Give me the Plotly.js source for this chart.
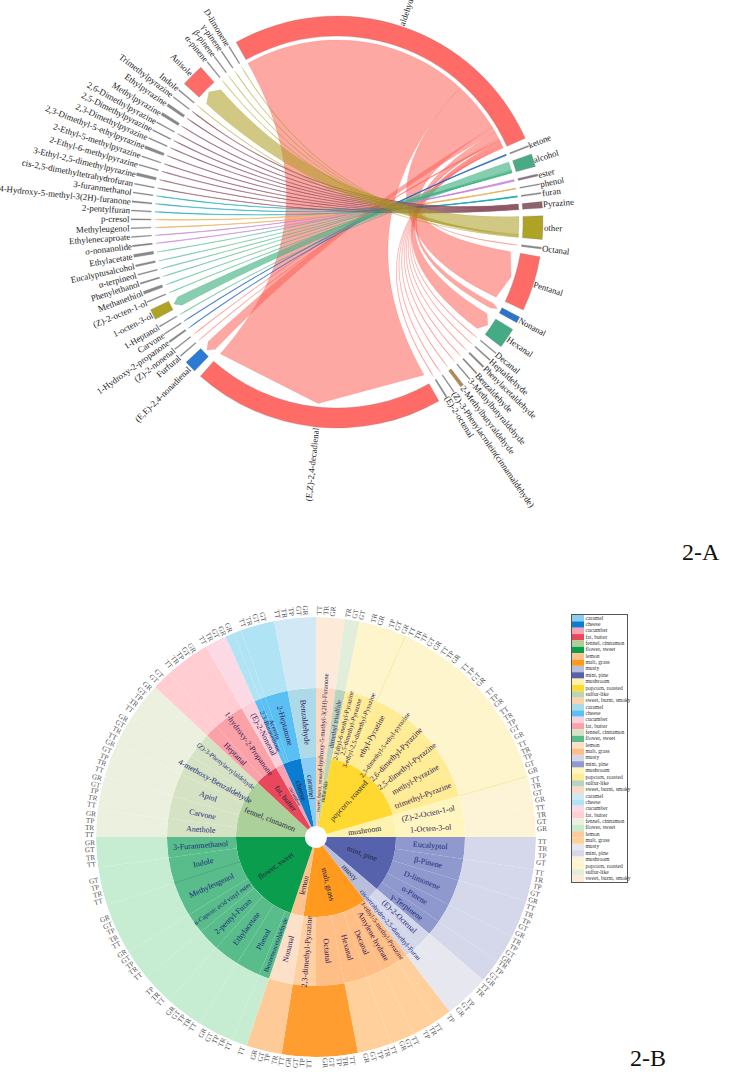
<!DOCTYPE html>
<html><head><meta charset="utf-8">
<script src="https://cdn.plot.ly/plotly-3.0.1.min.js"></script>
<style>html,body{margin:0;padding:0;background:#fff;overflow:hidden}</style></head>
<body><div id="chart" style="width:742px;height:1083px"></div>
<script>
// ---------- 2-A chord diagram data ----------
const arcNames = ['aldehyde','ketone','alcohol','ester','phenol','furan','Pyrazine','other','Octanal','Pentanal','Nonanal','Hexanal','Decanal','Heptaldehyde','Phenylacetaldehyde','Benzaldehyde','3-Methylbutyraldehyde','2-Methylbutyraldehyde','(Z)-3-Phenylacrolein(cinnamaldehyde)','(E)-2-octenal','(E,Z)-2,4-decadienal','(E,E)-2,4-nonadienal','Furfural','(Z)-2-nonenal','1-Hydroxy-2-propanone','Carvone','1-Heptanol','1-octen-3-ol','(Z)-2-octen-1-ol','Methanethiol','Phenylethanol','α-terpineol','Eucalyptusalcohol','Ethylacetate','σ-nonanolide','Ethylenecaproate','Methyleugenol','p-cresol','2-pentylfuran','4-Hydroxy-5-methyl-3(2H)-furanone','3-furanmethanol','cis-2,5-dimethyltetrahydrofuran','3-Ethyl-2,5-dimethylpyrazine','2-Ethyl-6-methylpyrazine','2-Ethyl-5-methylpyrazine','2,3-Dimethyl-5-ethylpyrazine','2,3-Dimethylpyrazine','2,5-Dimethylpyrazine','2,6-Dimethylpyrazine','Methylpyrazine','Ethylpyrazine','Trimethylpyrazine','Indole','Anisole','α-pinene','β-pinene','γ-pinene','D-limonene'];
const arcValues = [95.3,.4,3.6,.6,.3,.4,1.8,6.6,.5,15.6,1.8,5.8,.3,.4,.5,.4,.3,1,.3,.4,71.2,3.4,.3,.3,.5,.3,.3,3,.3,.8,.4,.3,.5,.8,.4,.3,.3,.3,.3,.4,.3,.3,.8,.3,.3,.8,.3,.3,.3,.8,.8,.3,.3,6.5,.3,.3,.3,.3];
const arcStartAngle = 330.7;
const arcFill = {aldehyde:'#ff6b66',alcohol:'#4aaa85',ester:'#8f7086',Pyrazine:'#8f636e',other:'#aea325',Pentanal:'#ff6b66',Nonanal:'#2a74c9',Hexanal:'#45ab85','2-Methylbutyraldehyde':'#b08a55','(E,Z)-2,4-decadienal':'#ff6b66','(E,E)-2,4-nonadienal':'#2a7ad6','1-octen-3-ol':'#aea325',Anisole:'#ff6b66'};

const aldehydeTargets = ['(E,Z)-2,4-decadienal','Pentanal','(E,E)-2,4-nonadienal','Hexanal','Nonanal','Furfural','(Z)-2-nonenal','(E)-2-octenal','(Z)-3-Phenylacrolein(cinnamaldehyde)','2-Methylbutyraldehyde','3-Methylbutyraldehyde','Benzaldehyde','Phenylacetaldehyde','Heptaldehyde','Decanal','Octanal'];
const aldehydeShares  = [71,16,1.7,2.2,.6,.22,.22,.22,.22,.4,.22,.22,.3,.22,.22,.3];
const ketoneTargets = ['1-Hydroxy-2-propanone','Carvone'];
const ketoneShares  = [1,1];
const alcoholTargets = ['1-octen-3-ol','Phenylethanol','1-Heptanol','(Z)-2-octen-1-ol','Methanethiol','α-terpineol','Eucalyptusalcohol','Ethylacetate'];
const alcoholShares  = [2.6,.3,.1,.1,.1,.1,.1,.1];
const esterTargets = ['σ-nonanolide','Ethylenecaproate'];
const esterShares  = [1,1];
const phenolTargets = ['p-cresol','Methyleugenol'];
const phenolShares  = [1,1];
const furanTargets = ['2-pentylfuran','4-Hydroxy-5-methyl-3(2H)-furanone','3-furanmethanol'];
const furanShares  = [1,1,1];
const pyrazineTargets = ['Trimethylpyrazine','Ethylpyrazine','Methylpyrazine','2,6-Dimethylpyrazine','2,5-Dimethylpyrazine','2,3-Dimethylpyrazine','2,3-Dimethyl-5-ethylpyrazine','2-Ethyl-5-methylpyrazine','2-Ethyl-6-methylpyrazine','3-Ethyl-2,5-dimethylpyrazine','cis-2,5-dimethyltetrahydrofuran'];
const pyrazineShares  = [1,1,1,1,1,1,1,1,1,1,1];
const otherTargets = ['Anisole','D-limonene','γ-pinene','β-pinene','α-pinene','Indole'];
const otherShares  = [5.6,.2,.2,.2,.2,.2];

// ---------- 2-B sunburst data ----------
const flavours = ['sweet, burnt, smoky','sulfur-like','popcorn, roasted','mushroom','mint, pine','musty','malt, grass','lemon','flower, sweet','fennel, cinnamon','fat, butter','cucumber','cheese','caramel'];
const flavourSpans = [7.5,3.9,62.6,16,40.5,12.1,46.4,9.4,71.6,43,17,5.7,13.3,11];
const compoundFlavour = [0,1,2,2,2,2,2,2,2,2,2,3,3,4,4,4,4,4,5,5,6,6,6,6,6,6,7,8,8,8,8,8,8,8,8,9,9,9,9,9,10,10,11,12,12,12,13];
const compoundNames = ['4-hydroxy-5-methyl-3(2H)-Furanone','dimethyl trisulfide','2-Ethyl-6-methyl-Pyrazine','2,5-dimethyl-Pyrazine','3-ethyl-2,5-dimethyl-Pyrazine','ethyl-Pyrazine','2,3-dimethyl-5-ethyl-pyrazine','2,6-dimethyl-Pyrazine','2,5-dimethyl-Pyrazine','methyl-Pyrazine','trimethyl-Pyrazine','(Z)-2-Octen-1-ol','1-Octen-3-ol','Eucalyptol','β-Pinene','D-limonene','α-Pinene','γ-Terpinene','(E)-2-Octenal','cis-tetrahydro-2,5-dimethyl-Furan','3-ethyl-5-methyl-Pyrazine','Amylene hydrate','Decanal','Hexanal','Octanal','2,3-dimethyl-Pyrazine','Nonanal','Benzeneacetaldehyde','Phenol','Ethylacetate','2-pentyl-Furan','n-Caproic acid vinyl ester','Methyleugenol','Indole','3-Furanmethanol','Anethole','Carvone','Apiol','4-methoxy-Benzaldehyde','(Z)-3-Phenylacrylaldehyde','Heptanal','1-hydroxy-2-Propanone','(E)-2-Nonenal','2,3-Butanedione','Acetoin','2-Heptanone','Benzaldehyde'];
const compoundSpans = [7.5,3.9,4.1,3.5,5,9.5,6.5,8,8,8,10,8,8,8.5,8.5,10,7.5,6,6.5,5.6,4.4,6.5,6.5,9,11,9,9.4,4.1,9.5,10,8.5,8,13.5,10,8,7,9,9,8,10,5,12,5.7,2.3,2,9,11];
const codeGroupStarts = [.8,8.3,15,19.6,25.1,34.6,41.4,50.2,56.2,65.8,75.3,82.7,91.3,99.2,108.4,117.6,124.5,131.9,137,143.6,147.3,154,160.1,170.7,181.6,188.7,199.2,202.7,212.8,223.4,231.8,241.5,253.4,263,270.5,278,287.2,296.3,304.5,314.3,319.5,330,341,350.1];
const codeGroups = ['TT TR GR','TR GT GT','TR GR','TP GT GR','TT TR TP GT GR','TT TP GR','TT TP GT GR','TT TP GR','TT TR TP GT GR','TT TR TP GT GR','TT TR GT GR','TT TR GT GR','TT TR TP GT','TT TR TP GT GR','TT TR TP GT GR','TR TP GT GR','TR TP GT GR','TT TR','TP GT GR','TP','TT TR TP','TT GT GR','TT TR TP GT GR','TT TR TP GT GR','TT TP GT GR','TT TR TP GT GR','TT','TT TR TP GT GR','TT TR TP GT GR','TT TR TP','TT TR TP GT GR','TT TR TP GT GR','TT TR TP GT','TT TR GT GR','TT TR TP GR','TT TR TP GT GR','TT TR TP GT GR','TT TR GT GR','TT TR TP GT GR','GT GT','TT TR TP GT GR','TT TR GT GR GR','TT TR GT GT','TT TR TP GT GR'];
const ring1Colors = ['#f9d3ae','#bdd4b0','#ffd92f','#fff2ae','#5762ad','#b9bedd','#ff9a1e','#fdc38e','#0a9d4d','#abd09a','#e9475b','#f8a3b5','#0b7dd1','#8bcdf2'];
const ring2Colors = ['#fdd9c2','#b8d4c0','#ffec94','#fff5bf','#8f99ce','#d4d7ea','#ffbe85','#fde0c8','#58bd8a','#d6e2c4','#fba2a8','#fbd0dd','#5ac0f4','#acdae9'];
const ring3Colors = ['#fdead9','#e3eeda','#fef5cc','#fdf4d8','#d5d8ea','#e7e7f0','#ffd09c','#fecb98','#c6ecd2','#ecf1df','#ffcdd2','#fbd9e5','#b0e4f5','#d2e8f5'];
const legendOrder = ['caramel','cheese','cucumber','fat, butter','fennel, cinnamon','flower, sweet','lemon','malt, grass','musty','mint, pine','mushroom','popcorn, roasted','sulfur-like','sweet, burnt, smoky'];

// ---------- page geometry ----------
const W=742,H=1083, SERIF='"Liberation Serif","Times New Roman",serif';
const A={cx:337,cy:222,R:208,inner:186,outer:206,end:182,edge:176};
const B={cx:316,cy:837,R:220,hole:11,r1:80,r2:149};
const LABEL_A=8.85;
const px=x=>x/W, py=y=>1-y/H;
const rad=d=>d*Math.PI/180;
const ctx=document.createElement('canvas').getContext('2d');
const textW=(s,f)=>{ctx.font=f+'px "Liberation Serif"';return ctx.measureText(s).width;};
const radialAngle=a=>{a=((a%360)+360)%360;return a<180?a-90:a-270;};
function radialLabel(c,a,r,text,size,color){
  return {xref:'paper',yref:'paper',x:px(c.cx+r*Math.sin(rad(a))),y:py(c.cy-r*Math.cos(rad(a))),text,showarrow:false,xanchor:'center',yanchor:'middle',textangle:radialAngle(a),font:{family:SERIF,size,color},borderpad:0,borderwidth:0};
}

// ---------- chord layout ----------
const sum=a=>a.reduce((p,v)=>p+v,0);
const gap=(360-sum(arcValues))/arcValues.length;
const arc={}; {let a=arcStartAngle;arcNames.forEach((n,i)=>{arc[n]={s:a,e:a+arcValues[i],m:a+arcValues[i]/2};a+=arcValues[i]+gap;});}
const traces=[];
function polarPt(x,y){return [Math.hypot(x,y),Math.atan2(x,y)*180/Math.PI];}
function ribbon(target,s0,s1,color,lw){
  const t0=arc[target];
  // thin links end in a hairline tip; only the wide ones keep the full arc width
  const t=(t0.e-t0.s)>1.4?t0:{s:t0.m-.12,e:t0.m+.12,m:t0.m};
  const rr=[],th=[];
  const add=(r,a)=>{rr.push(r);th.push(a);};
  const steps=Math.max(2,Math.ceil((s1-s0)/2));
  for(let i=0;i<=steps;i++)add(A.end,s0+(s1-s0)*i/steps);
  const bez=(a0,r0,a1,r1)=>{const ax=r0*Math.sin(rad(a0)),ay=r0*Math.cos(rad(a0)),bx=r1*Math.sin(rad(a1)),by=r1*Math.cos(rad(a1));
    for(let i=1;i<28;i++){const u=i/28,p=(1-u)*(1-u),q=u*u;const g=polarPt(p*ax+q*bx,p*ay+q*by);add(g[0],g[1]);}};
  bez(s1,A.end,t.s,A.edge);
  add(A.edge,t.s);add(A.end+.5,t.m);add(A.edge,t.e);
  bez(t.e,A.edge,s0,A.end);
  add(A.end,s0);
  traces.push({type:'scatterpolar',subplot:'polar',r:rr,theta:th,mode:'lines',fill:'toself',fillcolor:color,line:{color:color,width:lw},hoverinfo:'skip'});
}
function groupRibbons(g,targets,shares,color,lw){
  const a=arc[g],tot=sum(shares);let s=a.s;
  targets.forEach((t,i)=>{const w=(a.e-a.s)*shares[i]/tot;ribbon(t,s,s+w,color,lw);s+=w;});
}
groupRibbons('aldehyde',aldehydeTargets,aldehydeShares,'rgba(252,96,88,0.55)',.3);
groupRibbons('ketone',ketoneTargets,ketoneShares,'rgba(40,105,195,0.9)',.4);
groupRibbons('alcohol',alcoholTargets,alcoholShares,'rgba(70,180,135,0.65)',.4);
groupRibbons('ester',esterTargets,esterShares,'rgba(195,130,215,0.85)',.4);
groupRibbons('phenol',phenolTargets,phenolShares,'rgba(230,175,80,0.9)',.4);
groupRibbons('furan',furanTargets,furanShares,'rgba(25,165,180,0.85)',.4);
groupRibbons('Pyrazine',pyrazineTargets,pyrazineShares,'rgba(135,75,90,0.8)',.4);
groupRibbons('other',otherTargets,otherShares,'rgba(170,155,30,0.55)',.3);

traces.push({type:'barpolar',subplot:'polar',hoverinfo:'skip',
  theta:arcNames.map(n=>arc[n].m),width:arcValues,base:arcNames.map(()=>A.inner),r:arcNames.map(()=>A.outer-A.inner),
  marker:{color:arcNames.map(n=>arcFill[n]||'#8a8a8a'),line:{color:'#808080',width:.3}}});

const annotations=[];
arcNames.forEach(n=>annotations.push(radialLabel(A,arc[n].m,A.outer+textW(n,LABEL_A)/2+1,n,LABEL_A,'#222')));

// ---------- sunburst ----------
function ring(starts,spans,colors,r0,r1){
  traces.push({type:'barpolar',subplot:'polar2',hoverinfo:'skip',theta:starts.map((s,i)=>s+spans[i]/2),width:spans,base:starts.map(()=>r0),r:starts.map(()=>r1-r0),marker:{color:colors,line:{width:0}}});
}
const cum=a=>{let s=0;return a.map(v=>{const o=s;s+=v;return o;});};
const fStarts=cum(flavourSpans), cStarts=cum(compoundSpans);
ring(fStarts,flavourSpans,ring1Colors,B.hole,B.r1);
const c2=compoundFlavour.map((f,i)=>compoundNames[i]==='2,3-dimethyl-Pyrazine'?'#ffd0a2':ring2Colors[f]);
const c3=compoundFlavour.map((f,i)=>(compoundNames[i]==='Octanal'||compoundNames[i]==='2,3-dimethyl-Pyrazine')?'#ff9d30':ring3Colors[f]);
ring(cStarts,compoundSpans,c2,B.r1,B.r2);
ring(cStarts,compoundSpans,c3,B.r2,B.R);
// visible seams between neighbouring sectors
const seamAngles=[24,74,252];
const seamInner=[B.r2,B.r2,B.r1];
const seamOuter=[B.R,B.R,B.r2];
const seamColors=['#f6eaa4','#f6eaa4','#47a67c'];
seamAngles.forEach((a,i)=>traces.push({type:'scatterpolar',subplot:'polar2',mode:'lines',r:[seamInner[i],seamOuter[i]],theta:[a,a],line:{color:seamColors[i],width:1},hoverinfo:'skip'}));

flavours.forEach((f,i)=>{const a=fStarts[i]+flavourSpans[i]/2;const small=flavourSpans[i]<9;
  annotations.push(radialLabel(B,a,small?46:49,f,small?5.2:7.8,'#22223c'));});
compoundNames.forEach((n,i)=>{const a=cStarts[i]+compoundSpans[i]/2;const small=compoundSpans[i]<5;const fl=compoundFlavour[i];
  annotations.push(radialLabel(B,a,115,n,(n.length>24||small)?6.6:8,(fl>=8&&fl<=9)||fl==4||fl==5?'#1a2a7a':'#33205a'));});
codeGroups.forEach((g,i)=>g.split(' ').forEach((c,j)=>annotations.push(radialLabel(B,codeGroupStarts[i]+j*1.8,226.5,c,7.2,'#555'))));

annotations.push({xref:'paper',yref:'paper',x:px(722),y:py(552),text:'2-A',showarrow:false,font:{family:SERIF,size:24,color:'#111'}});
annotations.push({xref:'paper',yref:'paper',x:px(668),y:py(1073),text:'2-B',showarrow:false,font:{family:SERIF,size:24,color:'#111'}});

// ---------- legend panel ----------
const legendColors=[...legendOrder.map(n=>ring1Colors[flavours.indexOf(n)]),...legendOrder.map(n=>ring2Colors[flavours.indexOf(n)]),...legendOrder.map(n=>ring3Colors[flavours.indexOf(n)])];
const legendText=[...legendOrder,...legendOrder,...legendOrder];
const rows=legendText.map((_,i)=>i);
traces.push({type:'bar',orientation:'h',xaxis:'x',yaxis:'y',y:rows,x:rows.map(()=>12),width:1,marker:{color:legendColors,line:{width:0}},hoverinfo:'skip'});
traces.push({type:'scatter',xaxis:'x',yaxis:'y',mode:'text',x:rows.map(()=>13.5),y:rows,text:legendText,textposition:'middle right',textfont:{family:SERIF,size:5.6,color:'#333'},cliponaxis:false,hoverinfo:'skip'});

const hiddenPolar=(c,r)=>({domain:{x:[px(c.cx-r),px(c.cx+r)],y:[py(c.cy+r),py(c.cy-r)]},bgcolor:'rgba(0,0,0,0)',barmode:'overlay',
  radialaxis:{visible:false,range:[0,r],showgrid:false,showline:false,showticklabels:false,ticks:''},
  angularaxis:{visible:false,direction:'clockwise',rotation:90,thetaunit:'degrees',showgrid:false,showline:false,showticklabels:false,ticks:''}});

Plotly.newPlot('chart',traces,{
  width:W,height:H,margin:{l:0,r:0,t:0,b:0,pad:0},paper_bgcolor:'#fff',plot_bgcolor:'#fff',showlegend:false,hovermode:false,
  polar:hiddenPolar(A,A.R),polar2:hiddenPolar(B,B.R),
  xaxis:{domain:[px(572),px(627)],range:[0,55],showgrid:false,zeroline:false,showticklabels:false,ticks:'',showline:true,mirror:true,linecolor:'#555',linewidth:1,fixedrange:true},
  yaxis:{domain:[py(882),py(615)],range:[41.5,-.5],showgrid:false,zeroline:false,showticklabels:false,ticks:'',showline:true,mirror:true,linecolor:'#555',linewidth:1,fixedrange:true},
  annotations
},{displayModeBar:false,staticPlot:true});
</script></body></html>
